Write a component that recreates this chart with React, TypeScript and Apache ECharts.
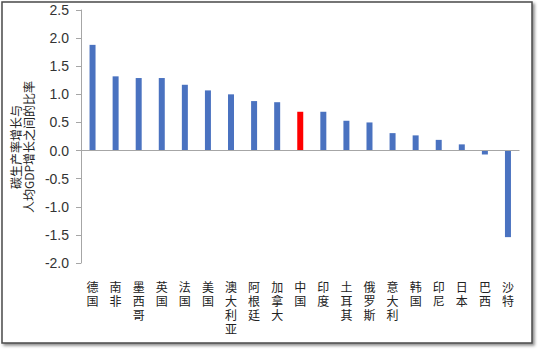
import React, { useEffect, useRef } from "react";
import * as echarts from "echarts";

const categories = ["德国", "南非", "墨西哥", "英国", "法国", "美国", "澳大利亚", "阿根廷", "加拿大", "中国", "印度", "土耳其", "俄罗斯", "意大利", "韩国", "印尼", "日本", "巴西", "沙特"];
const values = [1.88, 1.32, 1.29, 1.29, 1.17, 1.07, 1.0, 0.88, 0.86, 0.69, 0.69, 0.53, 0.5, 0.31, 0.27, 0.19, 0.11, -0.07, -1.54];
const highlight = "中国";
const yTitleLines = ["碳生产率增长与", "人均GDP增长之间的比率"];

export default function App() {
  const ref = useRef<HTMLDivElement>(null);
  useEffect(() => {
    if (!ref.current) return;
    const chart = echarts.init(ref.current, null, { renderer: "svg" });
    chart.setOption({
      animation: false,
      backgroundColor: "#ffffff",
      textStyle: { fontFamily: "'Liberation Sans', 'Noto Sans CJK SC', sans-serif" },
      graphic: [
        {
          type: "rect",
          z: -10,
          silent: true,
          shape: { x: 2, y: 2, width: 530, height: 341 },
          style: {
            fill: "#ffffff",
            stroke: "#4a4a4a",
            lineWidth: 1.5,
            shadowColor: "rgba(0,0,0,0.45)",
            shadowBlur: 3,
            shadowOffsetX: 2,
            shadowOffsetY: 2,
          },
        },
        {
          type: "text",
          x: 22,
          y: 147,
          rotation: Math.PI / 2,
          silent: true,
          style: {
            text: yTitleLines.join("\n"),
            fontSize: 12,
            lineHeight: 13,
            fill: "#222222",
            align: "center",
            verticalAlign: "middle",
            fontFamily: "'Noto Sans CJK SC', sans-serif",
          },
        },
      ],
      grid: { left: 81, right: 21.5, top: 10, bottom: 89, containLabel: false },
      xAxis: {
        type: "category",
        data: categories,
        axisLine: { show: false, onZero: false },
        axisTick: { show: false },
        axisLabel: {
          interval: 0,
          margin: 16,
          fontSize: 12,
          lineHeight: 14,
          color: "#222222",
          verticalAlign: "top",
          fontFamily: "'Noto Sans CJK SC', sans-serif",
          formatter: (v: string) => v.split("").join("\n"),
        },
      },
      yAxis: {
        type: "value",
        min: -2,
        max: 2.5,
        interval: 0.5,
        axisLine: { show: true, lineStyle: { color: "#a6a6a6", width: 1 } },
        axisTick: { show: true, length: 5, lineStyle: { color: "#a6a6a6" } },
        splitLine: { show: false },
        axisLabel: {
          fontSize: 14,
          color: "#333333",
          margin: 12,
          formatter: (v: number) => v.toFixed(1),
        },
      },
      series: [
        {
          type: "bar",
          barWidth: 6,
          data: values.map((v, i) => ({
            value: v,
            itemStyle: { color: categories[i] === highlight ? "#ff0000" : "#4a72c0" },
          })),
          markLine: {
            silent: true,
            symbol: "none",
            label: { show: false },
            lineStyle: { color: "#a6a6a6", width: 1, type: "solid" },
            data: [{ yAxis: 0 }],
          },
        },
      ],
    });
    return () => chart.dispose();
  }, []);
  return <div ref={ref} style={{ position: "absolute", left: 0, top: 0, width: 541, height: 352 }} />;
}
